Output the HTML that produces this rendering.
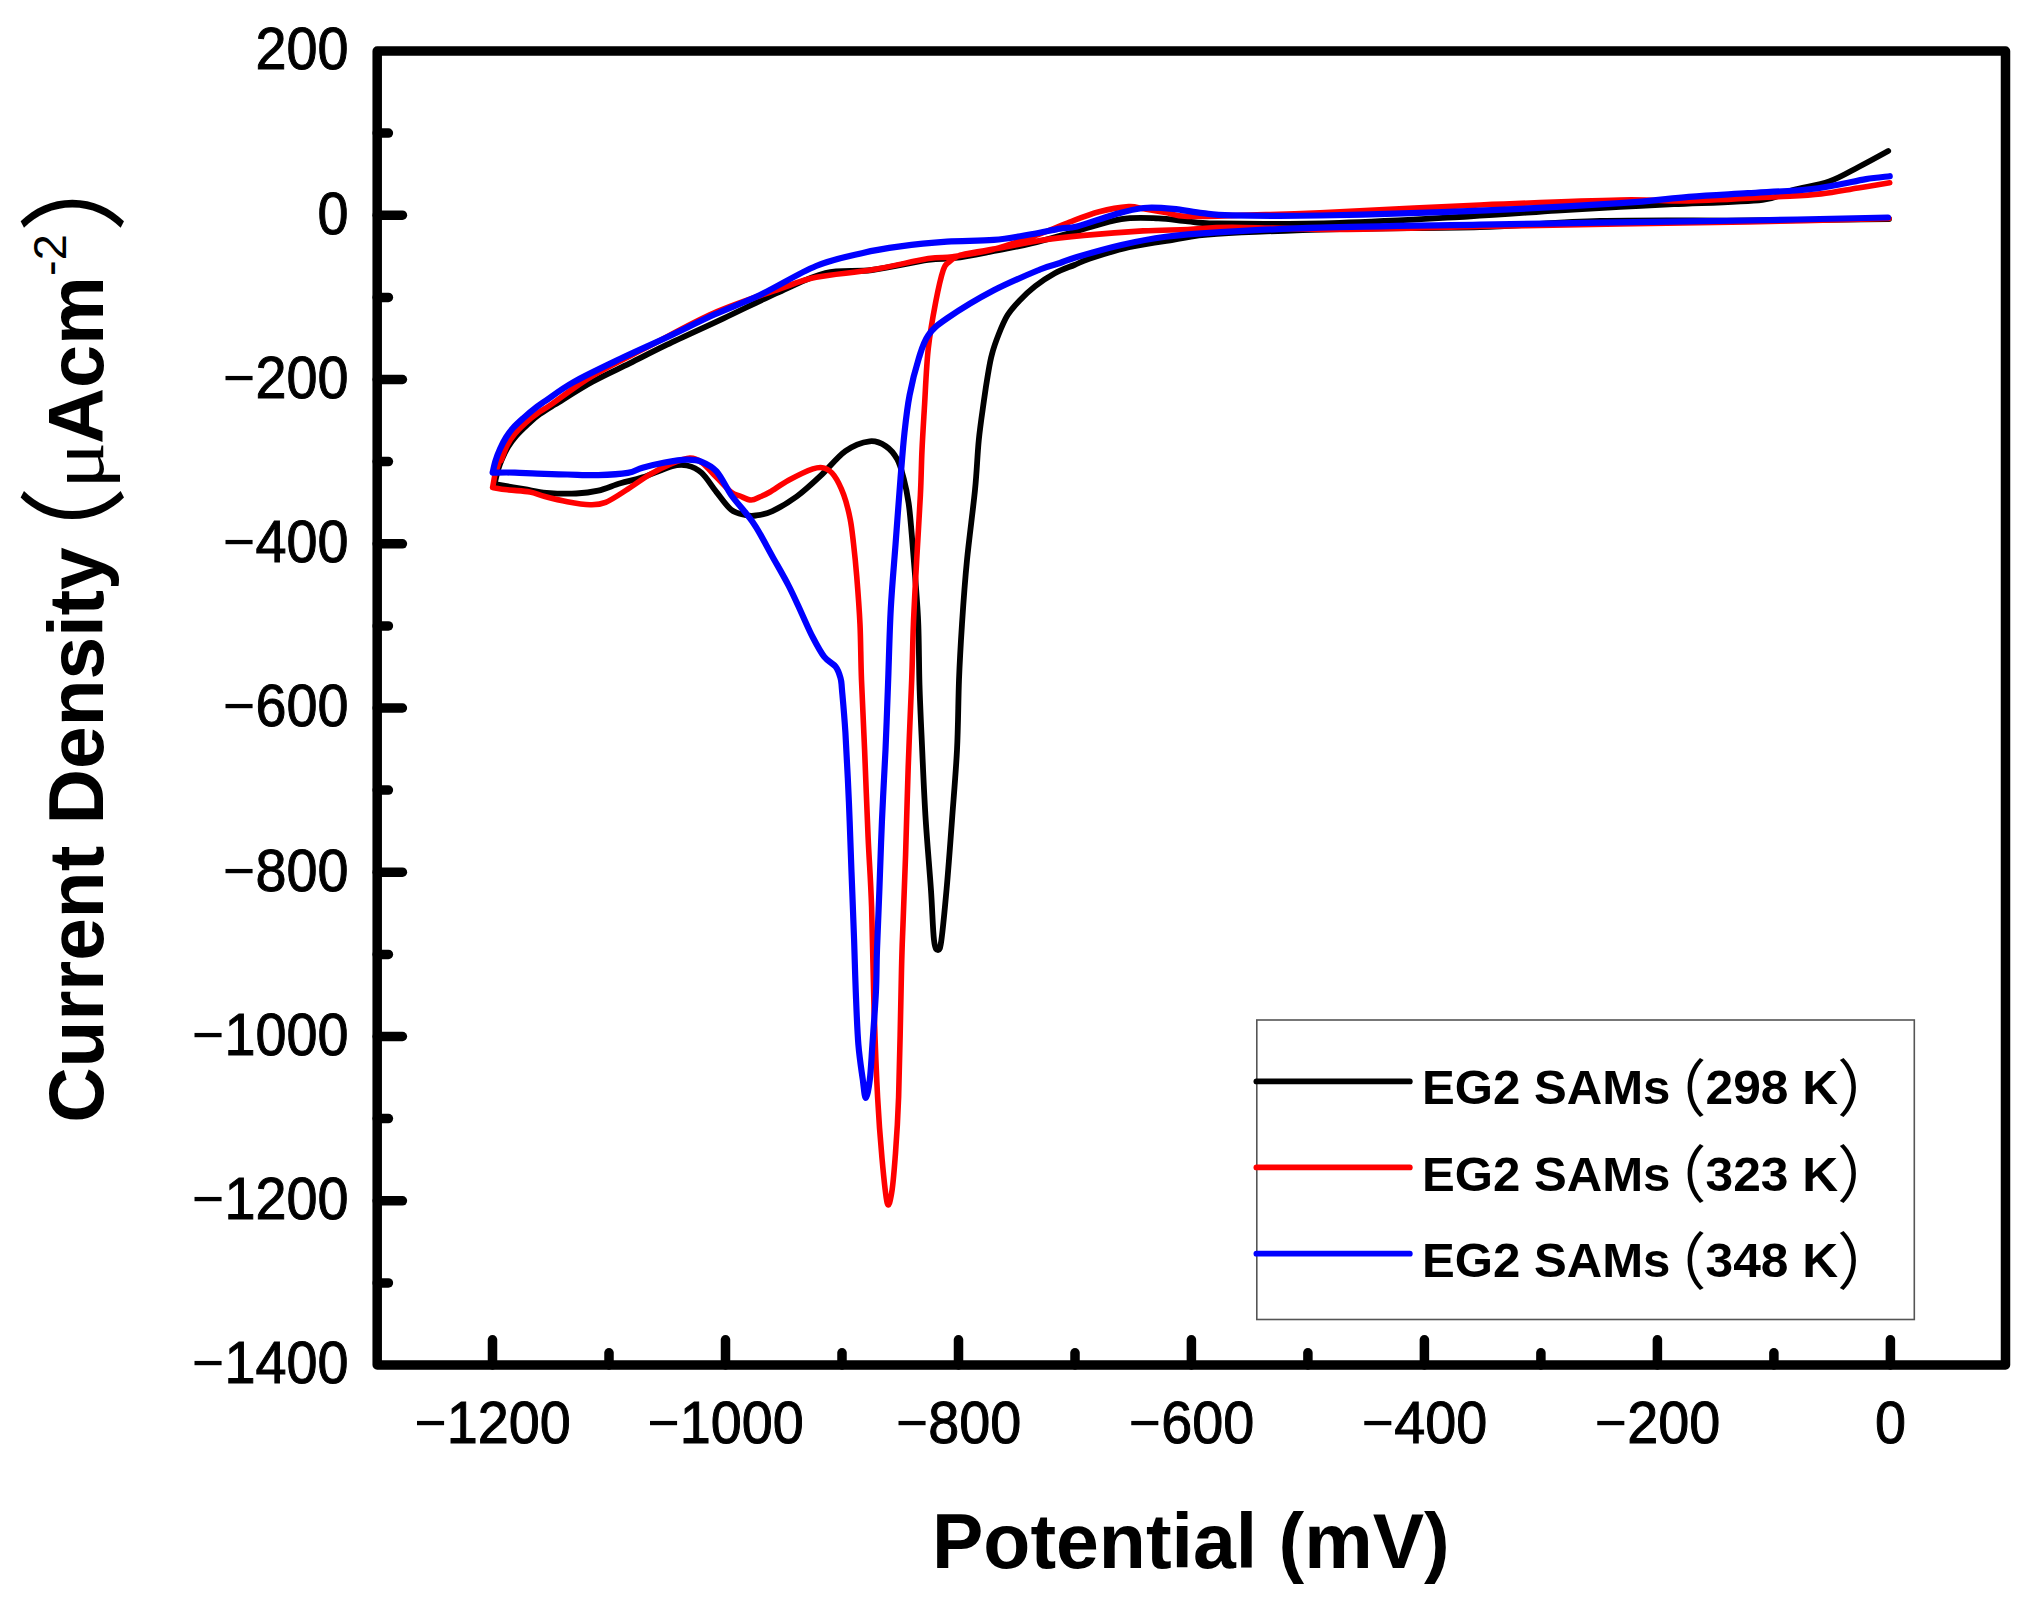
<!DOCTYPE html>
<html><head><meta charset="utf-8"><title>CV</title>
<style>html,body{margin:0;padding:0;background:#fff;overflow:hidden}svg{display:block}.t{font-family:"Liberation Sans",Arial,sans-serif}.lab{stroke:#000;stroke-width:1px}</style></head><body>
<svg width="2030" height="1604" viewBox="0 0 2030 1604">
<rect width="2030" height="1604" fill="#fff"/>
<path d="M1889.0,219.0 C1865.8,219.2 1798.2,220.2 1750.0,220.5 C1701.8,220.8 1645.0,219.9 1600.0,221.0 C1555.0,222.1 1523.3,225.7 1480.0,227.0 C1436.7,228.3 1383.8,227.8 1340.0,229.0 C1296.2,230.2 1244.8,232.1 1217.0,233.9 C1189.2,235.7 1187.7,237.6 1173.0,239.8 C1158.3,242.0 1142.8,244.1 1129.0,247.2 C1115.2,250.3 1099.1,255.5 1090.0,258.5 C1080.9,261.5 1080.3,262.6 1074.4,265.0 C1068.5,267.4 1061.3,269.6 1054.8,273.2 C1048.2,276.8 1041.0,281.7 1035.1,286.3 C1029.2,290.9 1024.0,295.9 1019.4,300.7 C1014.8,305.5 1011.1,309.4 1007.6,315.1 C1004.1,320.8 1001.1,328.2 998.5,334.8 C995.9,341.4 993.6,347.9 991.9,354.4 C990.1,360.9 989.3,366.4 988.0,374.0 C986.7,381.6 985.5,389.2 984.0,400.2 C982.5,411.2 980.3,425.0 978.8,440.0 C977.3,455.0 977.0,470.0 975.0,490.0 C973.0,510.0 969.2,537.7 967.0,560.0 C964.8,582.3 963.3,604.0 962.0,624.0 C960.7,644.0 959.8,659.0 959.0,680.0 C958.2,701.0 958.2,726.7 957.0,750.0 C955.8,773.3 953.7,796.8 952.0,820.0 C950.3,843.2 948.4,869.0 946.6,889.0 C944.8,909.0 942.8,929.8 941.4,940.0 C940.0,950.2 939.2,950.0 938.0,950.0 C936.8,950.0 935.2,950.2 934.0,940.0 C932.8,929.8 932.3,909.0 930.9,889.0 C929.5,869.0 927.2,843.2 925.7,820.0 C924.2,796.8 923.2,772.5 922.2,750.0 C921.2,727.5 920.1,705.9 919.5,685.0 C918.9,664.1 919.0,642.7 918.3,624.5 C917.6,606.3 916.2,590.9 915.1,576.0 C914.0,561.1 912.9,547.2 911.8,535.0 C910.7,522.8 910.0,512.4 908.6,503.0 C907.2,493.6 905.6,485.9 903.7,478.6 C901.8,471.3 900.2,464.6 897.2,459.2 C894.2,453.8 890.5,449.2 885.9,446.2 C881.3,443.2 876.5,440.5 869.7,441.3 C863.0,442.1 853.5,445.4 845.4,451.1 C837.3,456.8 829.1,467.8 821.0,475.4 C812.9,483.0 804.8,490.6 796.7,496.5 C788.6,502.4 779.2,507.9 772.4,511.1 C765.6,514.3 760.6,514.9 756.0,515.5 C751.4,516.1 749.1,516.0 745.0,515.0 C740.9,514.0 736.0,513.6 731.2,509.8 C726.5,506.0 721.4,498.2 716.5,492.1 C711.6,486.0 706.6,477.3 701.7,472.9 C696.8,468.5 691.8,466.6 686.9,465.5 C682.0,464.4 679.5,464.2 672.1,466.2 C664.7,468.2 651.2,474.5 642.6,477.3 C634.0,480.1 627.8,481.0 620.4,483.2 C613.0,485.4 605.6,488.9 598.2,490.6 C590.8,492.3 584.7,493.1 576.1,493.5 C567.5,493.9 555.1,493.5 546.5,492.8 C537.9,492.1 532.4,490.5 524.3,489.1 C516.2,487.8 502.7,485.6 497.7,484.7 C492.7,483.8 495.0,484.1 494.5,484.0 C495.1,481.7 496.8,474.2 498.0,470.0 C499.2,465.8 500.3,462.8 502.0,459.0 C503.7,455.2 505.7,450.8 508.0,447.0 C510.3,443.2 512.7,439.8 516.0,436.0 C519.3,432.2 524.0,427.7 528.0,424.0 C532.0,420.3 535.5,417.2 540.0,414.0 C544.5,410.8 546.1,409.9 554.8,404.6 C563.5,399.3 579.5,388.9 592.0,382.0 C604.5,375.1 617.1,369.6 629.6,363.4 C642.1,357.2 651.4,352.2 667.0,344.7 C682.6,337.2 704.4,327.4 723.1,318.6 C741.8,309.8 761.9,299.6 779.0,292.0 C796.1,284.4 810.0,276.7 825.5,273.0 C841.0,269.3 854.9,272.2 872.0,270.0 C889.1,267.8 914.2,262.0 928.0,260.0 C941.8,258.0 944.0,259.5 955.0,258.0 C966.0,256.5 981.3,253.4 994.0,251.0 C1006.7,248.6 1017.4,246.8 1031.2,243.5 C1045.0,240.2 1062.0,235.1 1077.0,231.0 C1092.0,226.9 1107.8,221.2 1121.3,219.1 C1134.8,217.0 1147.1,218.0 1158.2,218.4 C1169.3,218.8 1178.0,220.5 1187.8,221.3 C1197.6,222.2 1191.9,223.2 1217.3,223.5 C1242.7,223.8 1298.2,224.0 1340.0,222.8 C1381.8,221.6 1431.7,218.5 1467.8,216.5 C1503.9,214.5 1531.1,212.2 1556.5,210.6 C1581.9,209.0 1600.4,208.0 1620.0,206.9 C1639.6,205.8 1650.1,205.4 1673.9,204.2 C1697.7,203.0 1742.9,202.1 1762.6,199.8 C1782.3,197.5 1781.0,193.2 1792.1,190.2 C1803.2,187.1 1818.0,185.4 1829.1,181.5 C1840.2,177.6 1848.8,172.1 1858.6,167.0 C1868.4,161.9 1883.3,153.7 1888.2,151.0" fill="none" stroke="#000" stroke-width="5.8" stroke-linejoin="round" stroke-linecap="round"/>
<path d="M1889.0,218.5 C1865.5,219.1 1792.6,221.1 1747.8,222.0 C1703.0,222.9 1664.6,223.2 1620.0,224.0 C1575.4,224.8 1526.7,225.6 1480.0,226.5 C1433.3,227.4 1381.3,229.4 1340.0,229.5 C1298.7,229.6 1257.3,227.2 1232.0,227.2 C1206.7,227.2 1202.8,228.9 1188.0,229.5 C1173.2,230.1 1160.3,229.9 1143.0,230.9 C1125.7,231.9 1101.2,233.8 1084.0,235.4 C1066.8,237.0 1054.0,238.4 1040.0,240.5 C1026.0,242.6 1012.5,245.8 1000.0,248.0 C987.5,250.2 972.3,252.5 965.0,254.0 C957.7,255.5 958.7,255.7 956.0,257.0 C953.3,258.3 951.1,259.9 949.0,262.0 C946.9,264.1 945.5,263.2 943.3,269.8 C941.1,276.4 938.3,288.5 935.8,301.6 C933.3,314.7 930.2,331.2 928.3,348.3 C926.4,365.4 925.6,387.4 924.6,404.4 C923.6,421.3 922.7,434.9 922.0,450.0 C921.3,465.1 921.3,476.5 920.4,494.8 C919.5,513.1 917.9,538.1 916.7,559.7 C915.5,581.3 914.2,604.5 913.4,624.5 C912.6,644.5 912.6,656.2 911.7,680.0 C910.8,703.8 909.2,738.2 908.2,767.3 C907.2,796.4 906.5,828.3 905.6,854.5 C904.7,880.7 903.7,905.0 903.0,924.3 C902.3,943.5 902.2,941.2 901.5,970.0 C900.8,998.8 899.7,1065.8 898.6,1097.2 C897.5,1128.6 896.3,1142.3 895.1,1158.3 C893.9,1174.3 892.9,1185.8 891.6,1193.3 C890.3,1200.8 888.8,1208.8 887.2,1203.0 C885.6,1197.2 883.6,1175.9 882.0,1158.3 C880.4,1140.7 878.9,1121.9 877.6,1097.2 C876.3,1072.5 875.1,1041.6 874.1,1009.9 C873.1,978.2 872.6,935.7 871.6,906.9 C870.6,878.1 869.3,863.3 868.1,837.1 C866.9,810.9 865.7,776.0 864.6,749.8 C863.5,723.6 862.3,700.9 861.5,680.0 C860.7,659.1 860.8,641.9 860.0,624.5 C859.2,607.1 857.8,589.4 856.7,575.9 C855.6,562.4 854.6,553.0 853.5,543.5 C852.4,534.0 851.8,527.3 850.2,519.2 C848.6,511.1 846.4,502.1 843.7,494.8 C841.0,487.5 837.2,479.8 834.0,475.4 C830.8,470.9 827.8,469.2 824.3,468.1 C820.8,467.0 818.8,466.9 812.9,468.9 C807.0,470.9 795.8,476.4 788.6,480.3 C781.5,484.2 774.6,489.3 770.0,492.0 C765.4,494.7 764.0,495.2 760.8,496.5 C757.6,497.8 754.5,500.1 751.0,500.0 C747.5,499.9 743.3,497.3 740.0,496.0 C736.7,494.7 735.1,495.2 731.2,492.1 C727.3,489.0 721.4,482.2 716.5,477.3 C711.6,472.4 706.1,465.7 701.7,462.5 C697.3,459.3 694.8,458.0 689.9,458.1 C685.0,458.2 678.8,460.6 672.1,463.3 C665.5,466.0 657.4,470.0 650.0,474.3 C642.6,478.6 635.2,484.4 627.8,489.1 C620.4,493.8 611.9,499.8 605.6,502.4 C599.3,505.0 596.4,504.8 590.0,504.7 C583.6,504.6 574.8,503.1 567.3,501.7 C559.8,500.3 551.0,498.1 544.8,496.5 C538.5,494.9 536.0,493.1 529.8,492.0 C523.6,490.9 513.6,490.6 507.4,489.8 C501.2,489.1 495.1,487.9 492.6,487.5 C493.0,485.6 494.1,478.9 494.7,476.0 C495.3,473.1 495.7,472.3 496.5,470.0 C497.3,467.7 498.6,463.7 499.4,462.0 C500.2,460.3 500.1,462.7 501.4,459.8 C502.7,456.9 505.1,449.2 507.4,444.9 C509.6,440.5 511.8,437.4 514.9,433.7 C518.0,429.9 522.4,425.8 526.1,422.4 C529.8,419.0 532.9,416.6 537.3,413.5 C541.7,410.4 543.1,409.9 552.3,403.7 C561.4,397.4 576.2,385.5 592.2,376.0 C608.2,366.5 628.0,357.1 648.3,346.6 C668.6,336.1 692.0,322.6 713.8,313.0 C735.6,303.4 762.2,294.9 779.2,289.0 C796.2,283.1 800.6,280.5 816.1,277.3 C831.6,274.1 853.5,272.9 872.2,269.8 C890.9,266.7 914.9,260.8 928.3,258.6 C941.7,256.4 941.7,258.3 952.6,256.7 C963.5,255.1 979.2,253.0 993.8,249.2 C1008.4,245.4 1027.4,238.4 1040.0,233.9 C1052.6,229.4 1059.8,225.7 1069.6,222.0 C1079.4,218.3 1089.2,214.3 1099.1,211.7 C1108.9,209.1 1121.3,207.1 1128.7,206.6 C1136.1,206.1 1137.2,207.8 1143.4,208.8 C1149.6,209.8 1158.2,211.2 1165.6,212.5 C1173.0,213.8 1173.7,216.1 1187.8,216.5 C1201.9,216.9 1228.0,215.6 1250.0,215.0 C1272.0,214.4 1281.7,214.5 1320.0,212.8 C1358.3,211.1 1430.0,207.1 1480.0,205.0 C1530.0,202.9 1585.3,200.7 1620.0,200.0 C1654.7,199.3 1661.8,201.5 1688.0,201.0 C1714.2,200.5 1754.8,198.0 1777.0,196.8 C1799.2,195.6 1807.5,195.4 1821.0,193.9 C1834.5,192.4 1846.5,189.8 1858.0,188.0 C1869.5,186.2 1884.4,183.7 1889.7,182.8" fill="none" stroke="#ff0000" stroke-width="5.6" stroke-linejoin="round" stroke-linecap="round"/>
<path d="M1888.0,217.5 C1864.6,218.0 1795.8,219.6 1747.8,220.5 C1699.8,221.4 1644.6,222.0 1600.0,222.7 C1555.4,223.4 1526.7,223.9 1480.0,224.7 C1433.3,225.5 1363.8,226.3 1320.0,227.6 C1276.2,228.9 1243.0,230.9 1217.3,232.4 C1191.6,233.9 1181.6,234.7 1165.6,236.8 C1149.6,238.9 1136.1,241.6 1121.3,245.0 C1106.5,248.4 1087.2,254.0 1077.0,257.0 C1066.8,260.0 1066.2,260.9 1060.0,263.0 C1053.8,265.1 1051.0,264.9 1040.0,269.5 C1029.0,274.1 1009.3,282.2 993.8,290.3 C978.3,298.4 957.9,310.9 947.0,318.4 C936.1,325.9 933.0,328.6 928.3,335.2 C923.6,341.8 922.1,347.7 919.0,357.7 C915.9,367.7 912.0,382.6 909.6,395.1 C907.2,407.6 906.0,418.6 904.5,432.5 C903.0,446.4 902.0,460.1 900.5,478.6 C899.0,497.1 897.2,521.9 895.6,543.5 C894.0,565.1 892.1,584.7 890.8,608.3 C889.5,631.9 888.9,661.4 888.0,685.0 C887.1,708.6 886.5,727.4 885.5,749.8 C884.5,772.2 883.0,796.3 882.0,819.6 C881.0,842.9 880.2,867.7 879.4,889.4 C878.6,911.1 877.6,932.8 877.0,950.0 C876.4,967.2 876.7,976.6 875.9,992.4 C875.1,1008.2 873.4,1030.2 872.4,1044.8 C871.4,1059.3 870.9,1070.8 869.8,1079.7 C868.7,1088.6 867.0,1098.0 865.8,1098.0 C864.6,1098.0 864.0,1088.6 862.8,1079.7 C861.6,1070.8 859.6,1059.3 858.4,1044.8 C857.2,1030.2 856.5,1009.9 855.8,992.4 C855.1,974.9 854.8,960.1 854.1,940.0 C853.4,919.9 852.4,895.0 851.5,872.0 C850.6,849.0 849.9,825.5 848.9,802.2 C847.9,778.9 846.5,751.1 845.4,732.4 C844.2,713.7 842.8,699.1 842.0,690.0 C841.2,680.9 841.6,681.9 840.5,678.0 C839.4,674.1 838.3,670.2 835.6,666.7 C832.9,663.2 828.1,661.8 824.3,656.9 C820.5,652.0 816.7,644.8 812.9,637.5 C809.1,630.2 805.6,621.9 801.6,613.2 C797.6,604.6 793.5,595.1 788.6,585.6 C783.7,576.1 777.8,566.1 772.4,556.4 C767.0,546.7 760.8,534.7 756.2,527.3 C751.6,519.9 749.2,517.4 745.0,512.0 C740.8,506.6 736.0,501.8 731.2,495.0 C726.5,488.2 721.4,476.9 716.5,471.4 C711.6,465.9 706.6,463.8 701.7,461.8 C696.8,459.8 693.1,459.5 686.9,459.6 C680.7,459.7 672.1,461.1 664.7,462.5 C657.3,463.9 648.8,466.0 642.6,467.7 C636.5,469.4 635.2,471.7 627.8,472.9 C620.4,474.1 608.3,474.8 598.2,475.1 C588.1,475.4 577.4,474.7 567.3,474.5 C557.1,474.3 546.0,474.0 537.3,473.7 C528.6,473.4 522.3,472.8 514.9,472.6 C507.4,472.4 496.3,472.6 492.6,472.6 C493.1,470.7 494.3,464.9 495.5,461.0 C496.7,457.1 498.2,452.9 500.0,449.0 C501.8,445.1 503.8,441.0 506.0,437.5 C508.2,434.0 510.1,431.2 513.0,428.0 C515.9,424.8 519.5,421.6 523.5,418.0 C527.5,414.4 533.5,409.4 537.3,406.5 C541.0,403.6 540.0,404.6 546.0,400.5 C552.0,396.4 561.1,389.1 573.5,382.1 C585.9,375.2 604.7,366.3 620.3,358.8 C635.9,351.3 651.4,344.6 667.0,337.3 C682.6,330.0 698.3,321.9 713.8,314.8 C729.3,307.8 743.0,303.1 760.0,295.0 C777.0,286.9 799.0,273.0 816.1,266.0 C833.2,259.0 848.9,256.2 862.9,252.9 C876.9,249.6 886.3,248.3 900.3,246.4 C914.3,244.5 931.4,242.8 947.0,241.7 C962.6,240.6 979.8,241.2 993.8,239.9 C1007.8,238.7 1020.2,236.1 1031.2,234.2 C1042.2,232.3 1052.4,229.9 1060.0,228.6 C1067.6,227.3 1068.0,228.8 1077.0,226.5 C1086.0,224.2 1102.8,217.8 1113.9,214.7 C1125.0,211.6 1133.6,209.0 1143.4,208.0 C1153.2,207.0 1163.1,207.9 1173.0,208.8 C1182.9,209.7 1192.8,212.1 1202.6,213.2 C1212.4,214.3 1212.5,215.0 1232.1,215.4 C1251.7,215.8 1278.7,216.3 1320.0,215.5 C1361.3,214.7 1430.0,212.8 1480.0,210.7 C1530.0,208.6 1585.2,205.5 1620.0,203.2 C1654.8,200.9 1667.4,198.5 1688.7,196.8 C1710.0,195.1 1728.1,194.4 1747.8,193.2 C1767.5,192.0 1792.1,190.9 1806.9,189.5 C1821.7,188.1 1826.7,186.7 1836.5,185.0 C1846.3,183.3 1857.1,180.6 1866.0,179.1 C1874.9,177.6 1885.8,176.7 1889.7,176.2" fill="none" stroke="#0000ff" stroke-width="6.2" stroke-linejoin="round" stroke-linecap="round"/>
<rect x="1256.8" y="1020" width="657.5" height="299.5" fill="none" stroke="#555" stroke-width="1.6"/>
<line x1="1256.4" y1="1081.4" x2="1409.8" y2="1081.4" stroke="#000" stroke-width="5.8" stroke-linecap="round"/>
<line x1="1256.4" y1="1167.4" x2="1409.8" y2="1167.4" stroke="#ff0000" stroke-width="5.8" stroke-linecap="round"/>
<line x1="1256.4" y1="1253.7" x2="1409.8" y2="1253.7" stroke="#0000ff" stroke-width="5.8" stroke-linecap="round"/>
<text class="t" transform="translate(1422,1104.4) scale(1.013,1)" font-size="48.5" font-weight="bold">EG2 SAMs</text>
<text x="1644.5" y="1112.1" font-size="62" style="font-family:'Noto Sans CJK JP',sans-serif">（</text>
<text class="t" transform="translate(1705.5,1104.4) scale(1.025,1)" font-size="48.5" font-weight="bold">298 K</text>
<text x="1836.9" y="1112.1" font-size="62" style="font-family:'Noto Sans CJK JP',sans-serif">）</text>
<text class="t" transform="translate(1422,1190.6) scale(1.013,1)" font-size="48.5" font-weight="bold">EG2 SAMs</text>
<text x="1644.5" y="1198.3" font-size="62" style="font-family:'Noto Sans CJK JP',sans-serif">（</text>
<text class="t" transform="translate(1705.5,1190.6) scale(1.025,1)" font-size="48.5" font-weight="bold">323 K</text>
<text x="1836.9" y="1198.3" font-size="62" style="font-family:'Noto Sans CJK JP',sans-serif">）</text>
<text class="t" transform="translate(1422,1276.8) scale(1.013,1)" font-size="48.5" font-weight="bold">EG2 SAMs</text>
<text x="1644.5" y="1284.5" font-size="62" style="font-family:'Noto Sans CJK JP',sans-serif">（</text>
<text class="t" transform="translate(1705.5,1276.8) scale(1.025,1)" font-size="48.5" font-weight="bold">348 K</text>
<text x="1836.9" y="1284.5" font-size="62" style="font-family:'Noto Sans CJK JP',sans-serif">）</text>
<rect x="377.2" y="51.0" width="1628.3" height="1314.0" fill="none" stroke="#000" stroke-width="9.5" stroke-linejoin="round"/>
<line x1="377.2" y1="133.1" x2="388.4" y2="133.1" stroke="#000" stroke-width="9.5" stroke-linecap="round"/>
<line x1="377.2" y1="215.2" x2="402.4" y2="215.2" stroke="#000" stroke-width="9.5" stroke-linecap="round"/>
<line x1="377.2" y1="297.4" x2="388.4" y2="297.4" stroke="#000" stroke-width="9.5" stroke-linecap="round"/>
<line x1="377.2" y1="379.5" x2="402.4" y2="379.5" stroke="#000" stroke-width="9.5" stroke-linecap="round"/>
<line x1="377.2" y1="461.6" x2="388.4" y2="461.6" stroke="#000" stroke-width="9.5" stroke-linecap="round"/>
<line x1="377.2" y1="543.8" x2="402.4" y2="543.8" stroke="#000" stroke-width="9.5" stroke-linecap="round"/>
<line x1="377.2" y1="625.9" x2="388.4" y2="625.9" stroke="#000" stroke-width="9.5" stroke-linecap="round"/>
<line x1="377.2" y1="708.0" x2="402.4" y2="708.0" stroke="#000" stroke-width="9.5" stroke-linecap="round"/>
<line x1="377.2" y1="790.1" x2="388.4" y2="790.1" stroke="#000" stroke-width="9.5" stroke-linecap="round"/>
<line x1="377.2" y1="872.2" x2="402.4" y2="872.2" stroke="#000" stroke-width="9.5" stroke-linecap="round"/>
<line x1="377.2" y1="954.4" x2="388.4" y2="954.4" stroke="#000" stroke-width="9.5" stroke-linecap="round"/>
<line x1="377.2" y1="1036.5" x2="402.4" y2="1036.5" stroke="#000" stroke-width="9.5" stroke-linecap="round"/>
<line x1="377.2" y1="1118.6" x2="388.4" y2="1118.6" stroke="#000" stroke-width="9.5" stroke-linecap="round"/>
<line x1="377.2" y1="1200.8" x2="402.4" y2="1200.8" stroke="#000" stroke-width="9.5" stroke-linecap="round"/>
<line x1="377.2" y1="1282.9" x2="388.4" y2="1282.9" stroke="#000" stroke-width="9.5" stroke-linecap="round"/>
<line x1="492.5" y1="1365.0" x2="492.5" y2="1339.8" stroke="#000" stroke-width="9.5" stroke-linecap="round"/>
<line x1="609.0" y1="1365.0" x2="609.0" y2="1352.8" stroke="#000" stroke-width="9.5" stroke-linecap="round"/>
<line x1="725.5" y1="1365.0" x2="725.5" y2="1339.8" stroke="#000" stroke-width="9.5" stroke-linecap="round"/>
<line x1="842.0" y1="1365.0" x2="842.0" y2="1352.8" stroke="#000" stroke-width="9.5" stroke-linecap="round"/>
<line x1="958.5" y1="1365.0" x2="958.5" y2="1339.8" stroke="#000" stroke-width="9.5" stroke-linecap="round"/>
<line x1="1075.0" y1="1365.0" x2="1075.0" y2="1352.8" stroke="#000" stroke-width="9.5" stroke-linecap="round"/>
<line x1="1191.4" y1="1365.0" x2="1191.4" y2="1339.8" stroke="#000" stroke-width="9.5" stroke-linecap="round"/>
<line x1="1307.9" y1="1365.0" x2="1307.9" y2="1352.8" stroke="#000" stroke-width="9.5" stroke-linecap="round"/>
<line x1="1424.4" y1="1365.0" x2="1424.4" y2="1339.8" stroke="#000" stroke-width="9.5" stroke-linecap="round"/>
<line x1="1540.9" y1="1365.0" x2="1540.9" y2="1352.8" stroke="#000" stroke-width="9.5" stroke-linecap="round"/>
<line x1="1657.4" y1="1365.0" x2="1657.4" y2="1339.8" stroke="#000" stroke-width="9.5" stroke-linecap="round"/>
<line x1="1773.9" y1="1365.0" x2="1773.9" y2="1352.8" stroke="#000" stroke-width="9.5" stroke-linecap="round"/>
<line x1="1890.4" y1="1365.0" x2="1890.4" y2="1339.8" stroke="#000" stroke-width="9.5" stroke-linecap="round"/>
<text class="t lab" transform="translate(348.5,69.4) scale(0.93,1)" font-size="60" text-anchor="end">200</text>
<text class="t lab" transform="translate(348.5,233.7) scale(0.93,1)" font-size="60" text-anchor="end">0</text>
<text class="t lab" transform="translate(348.5,397.9) scale(0.93,1)" font-size="60" text-anchor="end"><tspan style="stroke:none">−</tspan>200</text>
<text class="t lab" transform="translate(348.5,562.1) scale(0.93,1)" font-size="60" text-anchor="end"><tspan style="stroke:none">−</tspan>400</text>
<text class="t lab" transform="translate(348.5,726.4) scale(0.93,1)" font-size="60" text-anchor="end"><tspan style="stroke:none">−</tspan>600</text>
<text class="t lab" transform="translate(348.5,890.6) scale(0.93,1)" font-size="60" text-anchor="end"><tspan style="stroke:none">−</tspan>800</text>
<text class="t lab" transform="translate(348.5,1054.9) scale(0.93,1)" font-size="60" text-anchor="end"><tspan style="stroke:none">−</tspan>1000</text>
<text class="t lab" transform="translate(348.5,1219.2) scale(0.93,1)" font-size="60" text-anchor="end"><tspan style="stroke:none">−</tspan>1200</text>
<text class="t lab" transform="translate(348.5,1383.4) scale(0.93,1)" font-size="60" text-anchor="end"><tspan style="stroke:none">−</tspan>1400</text>
<text class="t lab" transform="translate(492.5,1443.2) scale(0.93,1)" font-size="60" text-anchor="middle"><tspan style="stroke:none">−</tspan>1200</text>
<text class="t lab" transform="translate(725.5,1443.2) scale(0.93,1)" font-size="60" text-anchor="middle"><tspan style="stroke:none">−</tspan>1000</text>
<text class="t lab" transform="translate(958.5,1443.2) scale(0.93,1)" font-size="60" text-anchor="middle"><tspan style="stroke:none">−</tspan>800</text>
<text class="t lab" transform="translate(1191.4,1443.2) scale(0.93,1)" font-size="60" text-anchor="middle"><tspan style="stroke:none">−</tspan>600</text>
<text class="t lab" transform="translate(1424.4,1443.2) scale(0.93,1)" font-size="60" text-anchor="middle"><tspan style="stroke:none">−</tspan>400</text>
<text class="t lab" transform="translate(1657.4,1443.2) scale(0.93,1)" font-size="60" text-anchor="middle"><tspan style="stroke:none">−</tspan>200</text>
<text class="t lab" transform="translate(1890.4,1443.2) scale(0.93,1)" font-size="60" text-anchor="middle">0</text>
<text class="t" x="932" y="1568.4" font-size="77" font-weight="bold">Potential (mV)</text>
<g transform="translate(103.3,1126) rotate(-90)">
<text class="t" transform="translate(3.2,0) scale(0.99,1)" font-size="77.5" font-weight="bold">Current Density</text>
<text x="531.4" y="10.3" font-size="108.6" style="font-family:'Noto Sans CJK JP',sans-serif">（</text>
<text transform="translate(637,0) scale(1.13,1)" font-size="78" style="font-family:'Liberation Serif',serif">μ</text>
<text class="t" x="682" y="0" font-size="77.5" font-weight="bold">Acm</text>
<text class="t" x="850" y="-37.5" font-size="47">-2</text>
<text x="893.3" y="10.3" font-size="108.6" style="font-family:'Noto Sans CJK JP',sans-serif">）</text>
</g>
</svg></body></html>
